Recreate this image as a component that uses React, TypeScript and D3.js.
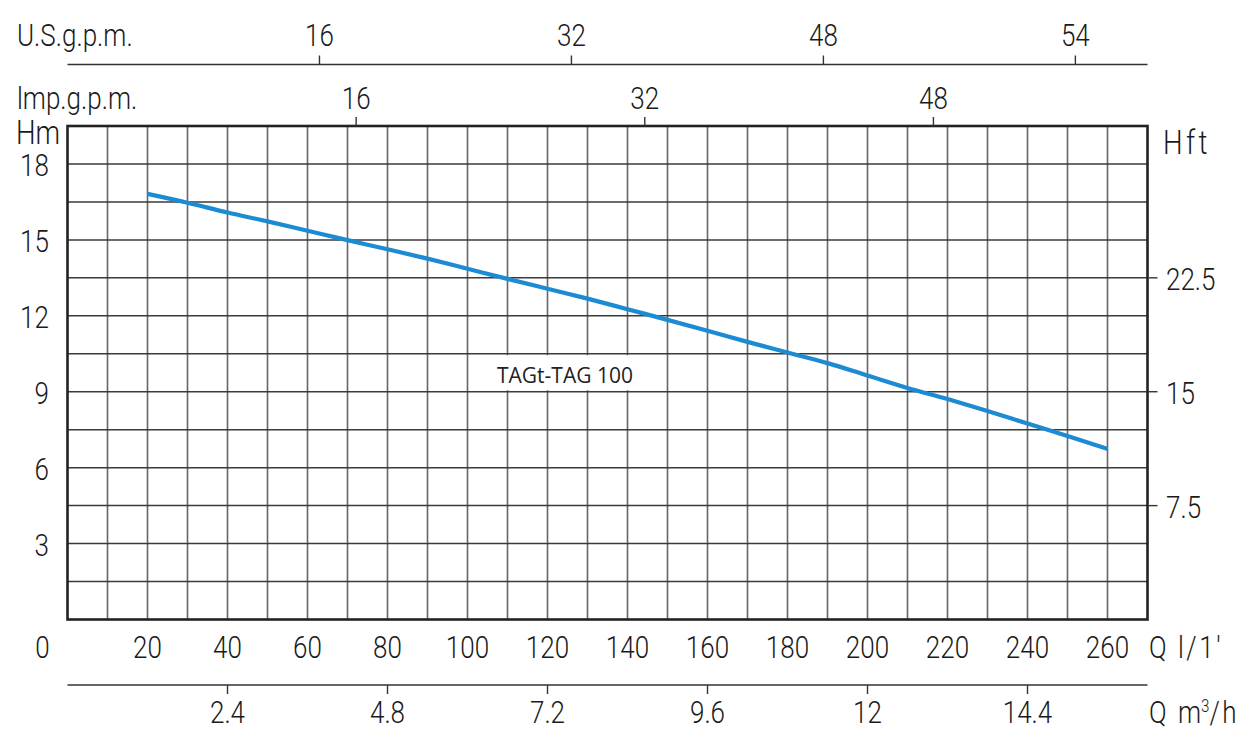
import React from "react";
import * as d3 from "d3";

// ---- data ----
const flowLmin = [20, 30, 40, 50, 60, 70, 80, 90, 100, 110, 120, 130, 140, 150, 160, 170, 180, 190, 200, 210, 220, 230, 240, 250, 260];
const headM = [16.82, 16.47, 16.08, 15.73, 15.36, 14.99, 14.63, 14.26, 13.86, 13.46, 13.07, 12.68, 12.26, 11.84, 11.41, 10.97, 10.55, 10.13, 9.64, 9.15, 8.71, 8.24, 7.74, 7.25, 6.74];
const curveName = "TAGt-TAG 100";

const qTicks = [0, 20, 40, 60, 80, 100, 120, 140, 160, 180, 200, 220, 240, 260];
const m3hTicks = [2.4, 4.8, 7.2, 9.6, 12, 14.4];
const usGpmTickPos = [16, 32, 48, 64];
const usGpmTickLabels = ["16", "32", "48", "54"];
const impGpmTicks = [16, 32, 48];
const hmTicks = [3, 6, 9, 12, 15, 18];
const hftTicks = [7.5, 15, 22.5];

const US_GAL = 3.937; // l/min per unit on the chart's US gpm scale
const IMP_GAL = 4.51;
const M3H = 1000 / 60;
const FT_PER_M = 5 / 3;

const FONT = "Roboto, 'DejaVu Sans', sans-serif";
const SX = 0.84;

function T({ x, y, anchor = "start", size = 31, spacing = 0, children }: any) {
  return (
    <text
      transform={`translate(${x},${y}) scale(${SX},1)`}
      textAnchor={anchor}
      fontFamily={FONT}
      fontWeight={300}
      fontSize={size}
      letterSpacing={spacing}
      fill="#1a1a1a"
    >
      {children}
    </text>
  );
}

export default function App() {
  const x = d3.scaleLinear().domain([0, 270]).range([67.5, 1147.5]);
  const y = d3.scaleLinear().domain([0, 19.5]).range([619.5, 126]);

  const vGrid = d3.range(10, 270, 10);
  const hGrid = d3.range(1.5, 19.5, 1.5);

  const line = d3
    .line<number>()
    .x((_, i) => x(flowLmin[i]))
    .y((d) => y(d))
    .curve(d3.curveMonotoneX);

  const usAxisY = 64.5;
  const m3hAxisY = 685;

  return (
    <svg
      width={1260}
      height={747}
      style={{ position: "absolute", left: 0, top: 0, background: "#fff" }}
    >
      <rect x={0} y={0} width={1260} height={747} fill="#fff" />

      {/* grid */}
      {vGrid.map((v) => (
        <line key={"v" + v} x1={x(v)} x2={x(v)} y1={y(19.5)} y2={y(0)} stroke="#666" strokeWidth={1.6} />
      ))}
      {hGrid.map((v) => (
        <line key={"h" + v} x1={x(0)} x2={x(270)} y1={y(v)} y2={y(v)} stroke="#3a3a3a" strokeWidth={1.5} />
      ))}

      {/* label background */}
      <rect x={489} y={y(10.5) + 1.5} width={162} height={y(9) - y(10.5) - 3} fill="#fff" />

      {/* border */}
      <rect x={x(0)} y={y(19.5)} width={x(270) - x(0)} height={y(0) - y(19.5)} fill="none" stroke="#222" strokeWidth={2.6} />

      {/* curve */}
      <path d={line(headM) || ""} fill="none" stroke="#1b8bd3" strokeWidth={4.2} strokeLinecap="butt" />

      <text x={497} y={383} fontFamily="'Open Sans', 'Liberation Sans', sans-serif" fontSize={21} fill="#222">
        {curveName}
      </text>

      {/* top US gpm axis */}
      <line x1={x(0)} x2={x(270)} y1={usAxisY} y2={usAxisY} stroke="#333" strokeWidth={1.4} />
      {usGpmTickPos.map((v, i) => (
        <g key={"us" + v}>
          <line x1={x(v * US_GAL)} x2={x(v * US_GAL)} y1={usAxisY} y2={usAxisY - 9} stroke="#333" strokeWidth={1.4} />
          <T x={x(v * US_GAL)} y={46} anchor="middle">{usGpmTickLabels[i]}</T>
        </g>
      ))}
      <T x={17} y={46}>U.S.g.p.m.</T>

      {/* Imp gpm axis */}
      {impGpmTicks.map((v) => (
        <g key={"imp" + v}>
          <line x1={x(v * IMP_GAL)} x2={x(v * IMP_GAL)} y1={y(19.5)} y2={y(19.5) - 9} stroke="#333" strokeWidth={1.4} />
          <T x={x(v * IMP_GAL)} y={109} anchor="middle">{v}</T>
        </g>
      ))}
      <T x={17} y={109}>lmp.g.p.m.</T>

      {/* left Hm axis */}
      <T x={16} y={144} size={33}>Hm</T>
      {hmTicks.map((v) => (
        <T key={"hm" + v} x={49} y={y(v) + 12} anchor="end">{v}</T>
      ))}

      {/* right Hft axis */}
      <T x={1163} y={154} size={33} spacing={4}>Hft</T>
      {hftTicks.map((v) => (
        <g key={"hft" + v}>
          <line x1={x(270)} x2={x(270) + 10} y1={y(v / FT_PER_M)} y2={y(v / FT_PER_M)} stroke="#333" strokeWidth={1.4} />
          <T x={1166} y={y(v / FT_PER_M) + 12}>{v}</T>
        </g>
      ))}

      {/* bottom Q l/min */}
      {qTicks.map((v) => (
        <T key={"q" + v} x={v === 0 ? x(0) - 25 : x(v)} y={658} anchor="middle">{v}</T>
      ))}
      <T x={1149} y={658}>Q</T>
      <T x={1178} y={658} spacing={3}>l/1′</T>

      {/* bottom m3/h axis */}
      <line x1={x(0)} x2={x(270)} y1={m3hAxisY} y2={m3hAxisY} stroke="#333" strokeWidth={1.4} />
      {m3hTicks.map((v) => (
        <g key={"m3" + v}>
          <line x1={x(v * M3H)} x2={x(v * M3H)} y1={m3hAxisY} y2={m3hAxisY + 9} stroke="#333" strokeWidth={1.4} />
          <T x={x(v * M3H)} y={723} anchor="middle">{String(v)}</T>
        </g>
      ))}
      <T x={1149} y={723}>Q</T>
      <T x={1178} y={723}>
        m<tspan dy={-11} fontSize={18}>3</tspan>
        <tspan dy={11} letterSpacing={3}>/h</tspan>
      </T>
    </svg>
  );
}
